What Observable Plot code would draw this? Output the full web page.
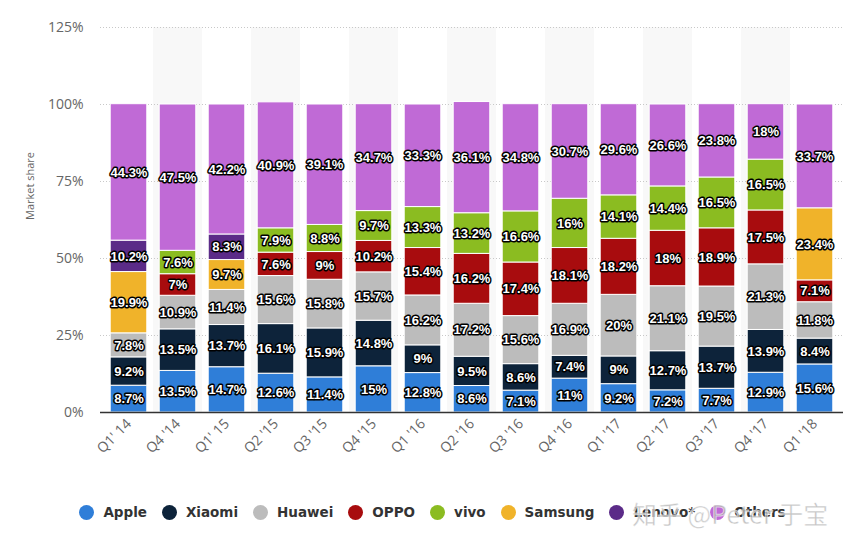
<!DOCTYPE html>
<html>
<head>
<meta charset="utf-8">
<script src="https://cdn.jsdelivr.net/npm/d3@7"></script>
<script src="https://cdn.jsdelivr.net/npm/@observablehq/plot@0.6"></script>
<style>
  html, body { margin: 0; padding: 0; background: #fff; }
  #wrap { position: relative; width: 857px; height: 548px; overflow: hidden; }
  #legend { position: absolute; left: 0; width: 857px; top: 504px; display: flex; justify-content: center; align-items: center; gap: 15px;
    font-family: "DejaVu Sans", Verdana, sans-serif; font-weight: bold; font-size: 13.5px; color: #333; padding-left: 8px; box-sizing: border-box; }
  .item { display: flex; align-items: center; gap: 9px; }
  .dot { width: 15px; height: 15px; border-radius: 50%; display: inline-block; }
  #wm { position: absolute; left: 632px; top: 495px; font-family: "Noto Sans CJK SC", sans-serif; font-size: 25px; color: rgba(170,170,170,0.75);
    -webkit-text-stroke: 1px rgba(255,255,255,0.6); white-space: nowrap; pointer-events: none; }
</style>
</head>
<body>
<div id="wrap">
  <div id="chart"></div>
  <div id="legend"></div>
  <div id="wm">知乎 @Peter 于宝</div>
</div>
<script>
const quarters = ["Q1' 14","Q4 '14","Q1' 15","Q2 '15","Q3 '15","Q4 '15","Q1 '16","Q2 '16","Q3 '16","Q4 '16","Q1 '17","Q2 '17","Q3 '17","Q4 '17","Q1 '18"];
const brands = ["Apple","Xiaomi","Huawei","OPPO","vivo","Samsung","Lenovo*","Others"];
const colors = ["#2f7ed8","#0d233a","#bcbcbc","#a80c0e","#8bbc21","#f0b32a","#5b2b88","#c06ad6"];

const apple   = [8.7, 13.5, 14.7, 12.6, 11.4, 15, 12.8, 8.6, 7.1, 11, 9.2, 7.2, 7.7, 12.9, 15.6];
const xiaomi  = [9.2, 13.5, 13.7, 16.1, 15.9, 14.8, 9, 9.5, 8.6, 7.4, 9, 12.7, 13.7, 13.9, 8.4];
const huawei  = [7.8, 10.9, 11.4, 15.6, 15.8, 15.7, 16.2, 17.2, 15.6, 16.9, 20, 21.1, 19.5, 21.3, 11.8];
const oppo    = [null, 7, null, 7.6, 9, 10.2, 15.4, 16.2, 17.4, 18.1, 18.2, 18, 18.9, 17.5, 7.1];
const vivo    = [null, 7.6, null, 7.9, 8.8, 9.7, 13.3, 13.2, 16.6, 16, 14.1, 14.4, 16.5, 16.5, null];
const samsung = [19.9, null, 9.7, null, null, null, null, null, null, null, null, null, null, null, 23.4];
const lenovo  = [10.2, null, 8.3, null, null, null, null, null, null, null, null, null, null, null, null];
const others  = [44.3, 47.5, 42.2, 40.9, 39.1, 34.7, 33.3, 36.1, 34.8, 30.7, 29.6, 26.6, 23.8, 18, 33.7];

const yTicks = [0, 25, 50, 75, 100, 125];

const series = [apple, xiaomi, huawei, oppo, vivo, samsung, lenovo, others];
const data = [];
quarters.forEach((q, i) => {
  series.forEach((s, j) => {
    if (s[i] != null) data.push({q, brand: brands[j], v: s[i]});
  });
});
const shaded = quarters.filter((q, i) => i % 2 === 1);

const chart = Plot.plot({
  width: 857,
  height: 475,
  marginLeft: 100,
  marginRight: 14,
  marginTop: 27,
  marginBottom: 63,
  style: {fontFamily: "'Open Sans', sans-serif", fontSize: "14px", color: "#666", background: "#fff"},
  x: {domain: quarters, padding: 0, tickSize: 0, tickRotate: -45, tickPadding: 9, label: null},
  y: {domain: [0, 125], ticks: yTicks, tickFormat: d => d + "%", tickSize: 0, tickPadding: 17, label: null},
  color: {domain: brands, range: colors},
  marks: [
    Plot.barY(shaded, {x: d => d, y1: 0, y2: 125, fill: "#f8f8f8"}),
    Plot.ruleY(yTicks.filter(d => d > 0), {stroke: "#c8c8c8", strokeDasharray: "1,2"}),
    Plot.barY(data, Plot.stackY({x: "q", y: "v", z: "brand", fill: "brand", order: brands, insetLeft: 6.2, insetRight: 6.2, stroke: "#fff", strokeWidth: 1})),
    Plot.ruleY([0], {stroke: "#333", strokeWidth: 1.5}),
    Plot.text(data, Plot.stackY({x: "q", y: "v", z: "brand", order: brands, text: d => d.v + "%",
      fill: "#fff", stroke: "#000", strokeWidth: 3, strokeLinejoin: "round", paintOrder: "stroke",
      fontWeight: "bold", fontSize: 13, fontFamily: "'Liberation Sans', Arial, sans-serif"})),
    Plot.text(["Market share"], {text: d => d, frameAnchor: "left", dx: -70, rotate: -90, fontSize: 11, fill: "#666"})
  ]
});
document.getElementById("chart").appendChild(chart);

const legend = document.getElementById("legend");
brands.forEach((b, i) => {
  const item = document.createElement("div");
  item.className = "item";
  const dot = document.createElement("span");
  dot.className = "dot";
  dot.style.background = colors[i];
  const label = document.createElement("span");
  label.textContent = b;
  item.appendChild(dot);
  item.appendChild(label);
  legend.appendChild(item);
});
</script>
</body>
</html>
